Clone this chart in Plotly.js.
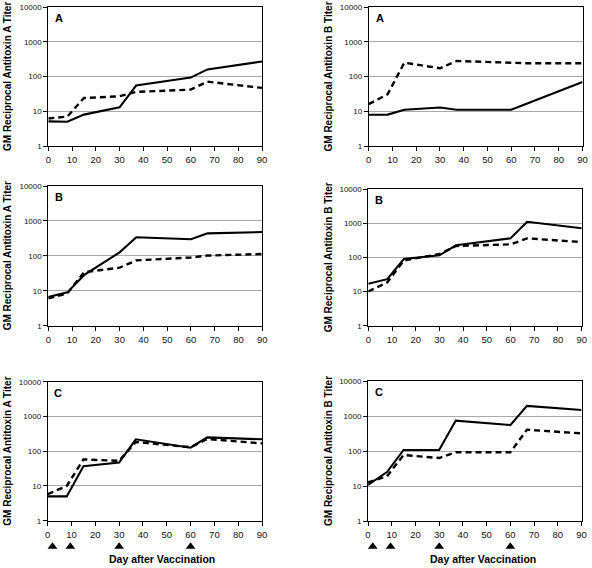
<!DOCTYPE html>
<html><head><meta charset="utf-8">
<script src="https://cdn.plot.ly/plotly-3.0.1.min.js"></script>
<style>html,body{margin:0;padding:0;background:#fff}#chart{width:592px;height:568px}</style>
</head><body><div id="chart"></div>
<script>
const days = [0, 8, 15, 30, 37, 60, 67, 90];
const vaccinationDays = [2, 9.5, 30, 60];
const xTickVals = [0, 10, 20, 30, 40, 50, 60, 70, 80, 90];
const yTickVals = [1, 10, 100, 1000, 10000];
const yTickText = ['1', '10', '100', '1000', '10000'];
const panelLetters = ['A', 'B', 'C'];
const yTitleA = 'GM Reciprocal Antitoxin A Titer';
const yTitleB = 'GM Reciprocal Antitoxin B Titer';
const xTitle = 'Day after Vaccination';

// Antitoxin A titers (left column), groups A, B, C
const antiA_A_solid  = [5.1, 5, 8, 13, 55, 93, 160, 270];
const antiA_A_dashed = [6.2, 7, 24, 27, 36, 42, 71, 47];
const antiA_B_solid  = [6.6, 9, 28, 126, 340, 300, 440, 480];
const antiA_B_dashed = [6.1, 8.4, 34, 46, 74, 90, 102, 113];
const antiA_C_solid  = [5, 5, 37, 47, 220, 126, 250, 220];
const antiA_C_dashed = [5.8, 10, 58, 53, 184, 130, 224, 168];
// Antitoxin B titers (right column), groups A, B, C
const antiB_A_solid  = [7.9, 8, 11, 12.8, 11, 11, 17, 69];
const antiB_A_dashed = [16, 31, 250, 173, 280, 250, 240, 240];
const antiB_B_solid  = [17, 23, 89, 115, 225, 360, 1100, 710];
const antiB_B_dashed = [10, 18.5, 81, 125, 215, 240, 360, 280];
const antiB_C_solid  = [10.7, 25, 107, 107, 740, 550, 1940, 1480];
const antiB_C_dashed = [12.7, 19, 77, 63, 92, 92, 406, 318];

const W = 592, H = 568;
const FONT = 'Liberation Sans, Arial, Helvetica, sans-serif';

// panel boxes in pixels [left, right, top, bottom]
const boxes = [
  [48.3, 262, 7, 146],
  [368.7, 582.5, 7, 146],
  [48.3, 262.3, 186, 325.7],
  [368.3, 581.7, 189, 325.7],
  [47.7, 262, 381.7, 520.7],
  [368, 581.5, 381, 521]
];
// vertical pixel band of the vaccination markers row, per bottom panel
const markerBands = {4: [540, 553], 5: [540, 553]};

const solidSeries = [antiA_A_solid, antiB_A_solid, antiA_B_solid, antiB_B_solid, antiA_C_solid, antiB_C_solid];
const dashedSeries = [antiA_A_dashed, antiB_A_dashed, antiA_B_dashed, antiB_B_dashed, antiA_C_dashed, antiB_C_dashed];

const traces = [];
const layout = {
  width: W, height: H,
  margin: {l: 0, r: 0, t: 0, b: 0},
  paper_bgcolor: '#fff', plot_bgcolor: '#fff',
  showlegend: false,
  font: {family: FONT, color: '#000'},
  annotations: []
};

let extraAxis = 7;
boxes.forEach((b, i) => {
  const n = i + 1;
  const xa = n === 1 ? 'x' : 'x' + n;
  const ya = n === 1 ? 'y' : 'y' + n;
  const xKey = n === 1 ? 'xaxis' : 'xaxis' + n;
  const yKey = n === 1 ? 'yaxis' : 'yaxis' + n;
  layout[xKey] = {
    domain: [b[0] / W, b[1] / W], anchor: ya,
    range: [0, 90], tickvals: xTickVals,
    ticks: 'outside', ticklen: 4, tickwidth: 1, tickcolor: '#000',
    ticklabelstandoff: 1,
    showline: true, linecolor: '#000', linewidth: 1, mirror: true,
    showgrid: false, zeroline: false,
    tickfont: {family: FONT, size: 9.5, color: '#111'}
  };
  layout[yKey] = {
    domain: [1 - b[3] / H, 1 - b[2] / H], anchor: xa,
    type: 'log', range: [0, 4], tickvals: yTickVals, ticktext: yTickText,
    ticks: 'outside', ticklen: 4, tickwidth: 1, tickcolor: '#000',
    showline: true, linecolor: '#000', linewidth: 1, mirror: true,
    showgrid: true, gridcolor: '#a9a9a9', gridwidth: 1, zeroline: false,
    tickfont: {family: FONT, size: 8, color: '#111'}
  };
  traces.push({
    x: days, y: dashedSeries[i], xaxis: xa, yaxis: ya, type: 'scatter', mode: 'lines',
    name: 'dashed', line: {color: '#000', width: 2.4, dash: '6px,4px'}, hoverinfo: 'skip'
  });
  traces.push({
    x: days, y: solidSeries[i], xaxis: xa, yaxis: ya, type: 'scatter', mode: 'lines',
    name: 'solid', line: {color: '#000', width: 2.1}, hoverinfo: 'skip'
  });
  const wpx = b[1] - b[0], hpx = b[3] - b[2];
  const isLeft = i % 2 === 0;
  layout.annotations.push({
    text: panelLetters[Math.floor(i / 2)], showarrow: false,
    xref: xa + ' domain', yref: ya + ' domain',
    x: (isLeft ? 10.5 : 11) / wpx, y: 1 - 11 / hpx, xanchor: 'center', yanchor: 'middle',
    font: {family: FONT, size: 11, weight: 'bold', color: '#000'}
  });
  layout.annotations.push({
    text: isLeft ? yTitleA : yTitleB, showarrow: false, textangle: -90,
    xref: 'paper', yref: ya + ' domain',
    x: (isLeft ? 7.5 : 328) / W, y: 0.5, xanchor: 'center', yanchor: 'middle',
    font: {family: FONT, size: 10, weight: 'bold', color: '#000'}
  });
  if (markerBands[i]) {
    const band = markerBands[i];
    const mKey = 'yaxis' + extraAxis, mA = 'y' + extraAxis;
    extraAxis++;
    layout[mKey] = {
      domain: [1 - band[1] / H, 1 - band[0] / H], anchor: xa, range: [0, 1],
      visible: false, fixedrange: true
    };
    traces.push({
      x: vaccinationDays, y: vaccinationDays.map(() => 0.5), xaxis: xa, yaxis: mA,
      type: 'scatter', mode: 'markers', name: 'vaccination', cliponaxis: false,
      marker: {symbol: 'triangle-up', size: 8.5, color: '#000'}, hoverinfo: 'skip'
    });
    layout.annotations.push({
      text: xTitle, showarrow: false, xref: 'paper', yref: 'paper',
      x: (isLeft ? 161.5 : 483) / W, y: 1 - 559 / H, xanchor: 'center', yanchor: 'middle',
      font: {family: FONT, size: 10.5, weight: 'bold', color: '#000'}
    });
  }
});

Plotly.newPlot('chart', traces, layout, {displayModeBar: false, staticPlot: true});
</script>
</body></html>
